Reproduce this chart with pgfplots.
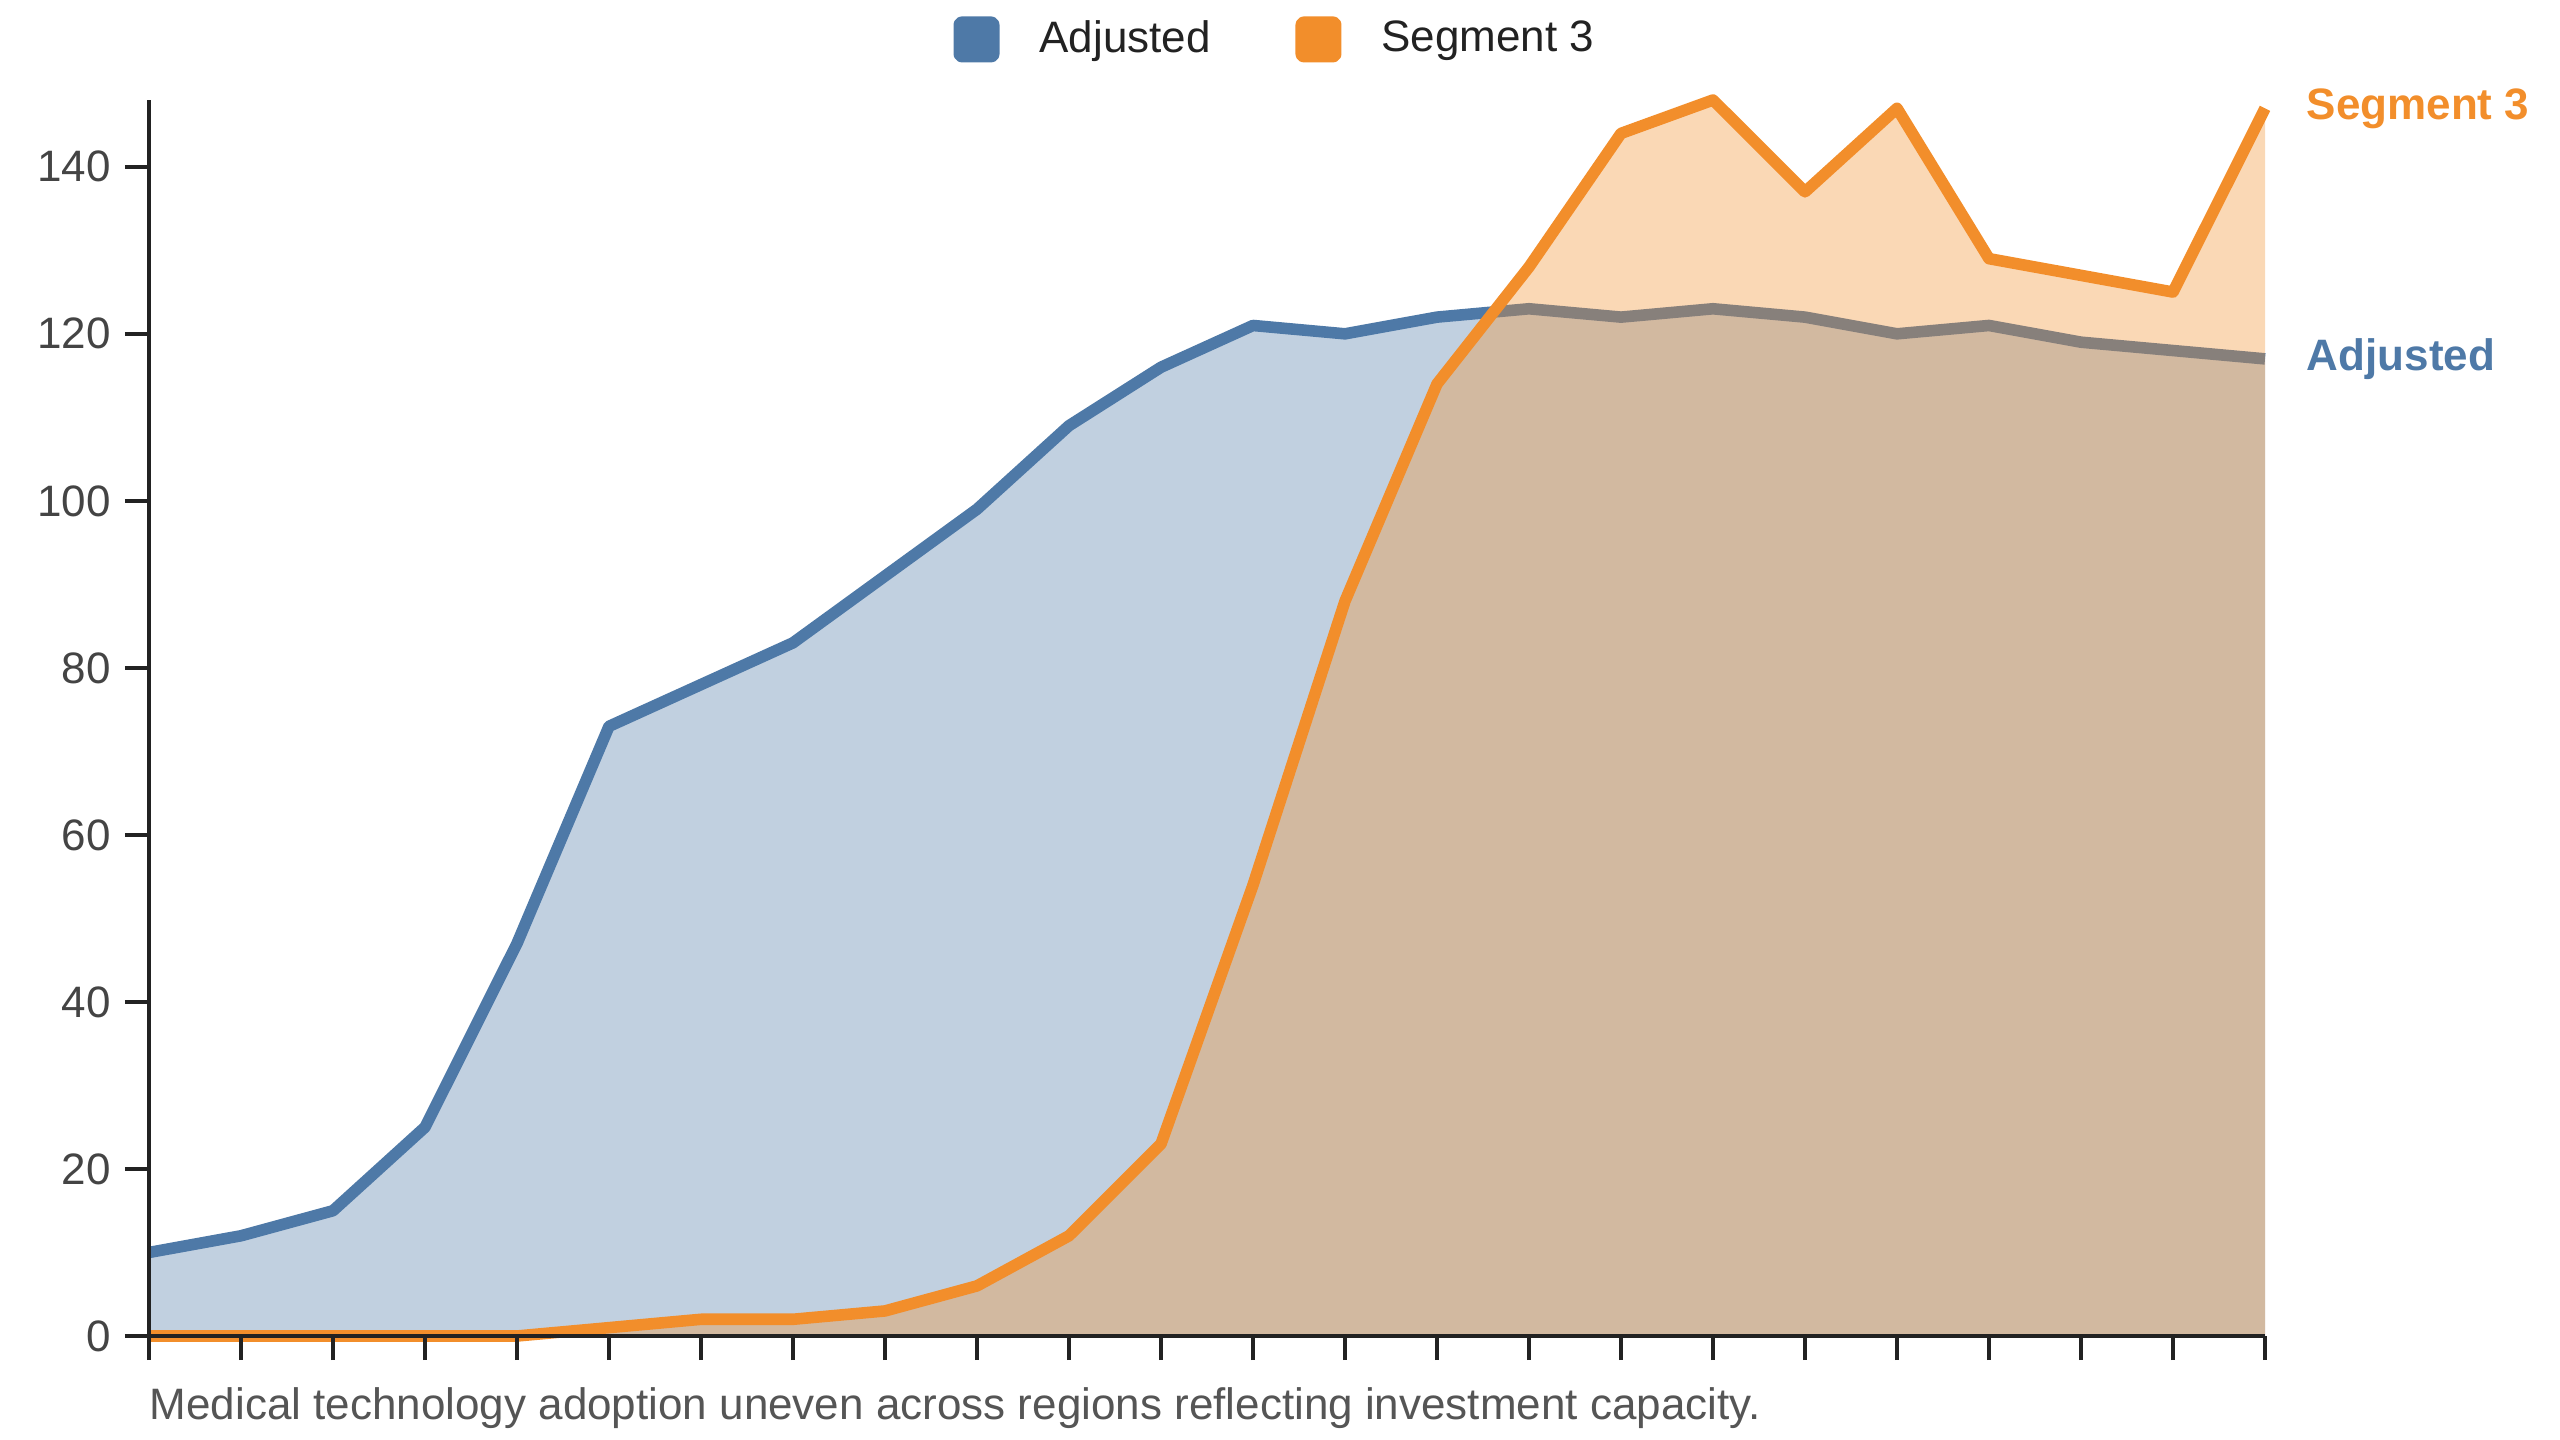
\documentclass[border=0pt]{standalone}
\usepackage{pgfplots}
\pgfplotsset{compat=1.18}
\usepackage{pgfplotstable}
\usepackage{fontspec}
\setmainfont{Liberation Sans}
\definecolor{cblue}{HTML}{4E79A7}
\definecolor{corange}{HTML}{F28E2B}
\definecolor{axisc}{HTML}{222222}
\definecolor{tickc}{HTML}{444444}
\definecolor{capc}{HTML}{555555}
\pgfplotstableread{
x adj seg
0 10 0
1 12 0
2 15 0
3 25 0
4 47 0
5 73 1
6 78 2
7 83 2
8 91 3
9 99 6
10 109 12
11 116 23
12 121 54
13 120 88
14 122 114
15 123 128
16 122 144
17 123 148
18 122 137
19 120 147
20 121 129
21 119 127
22 118 125
23 117 147
}\datatable
\begin{document}
\begin{tikzpicture}
\useasboundingbox (-37.25bp,-26bp) rectangle (602.75bp,334bp);
\begin{axis}[
  scale only axis, width=529bp, height=309bp,
  xmin=0, xmax=23, ymin=0, ymax=148,
  axis x line*=bottom, axis y line*=left,
  axis line style={line width=0.95bp, draw=axisc, -},
  xtick={0,...,23}, xticklabels={},
  ytick={0,20,...,140},
  tick align=outside, major tick length=6bp,
  tick style={line width=0.95bp, draw=axisc},
  yticklabel style={font=\fontsize{11bp}{13bp}\selectfont, text=tickc},
  /pgf/number format/assume math mode=true,
  clip=false, axis on top,
  legend style={at={(axis description cs:0.5335,1.0490)}, anchor=center,
    draw=none, fill=none, inner sep=0pt, legend columns=2,
    font=\fontsize{11bp}{13bp}\selectfont, text=axisc,
    /tikz/every even column/.append style={column sep=19.2bp}},
  legend cell align=left,
  legend image code/.code={\fill[#1, rounded corners=0.6bp] (0bp,-4.3bp) rectangle (8.6bp,4.3bp); \path (16.6bp,0bp);},
]
\addplot[draw=none, fill=cblue, fill opacity=0.35, forget plot] table[x=x,y=adj]{\datatable} \closedcycle;
\addplot[cblue, line width=2.9bp, line join=round] table[x=x,y=adj]{\datatable};
\addlegendentry{Adjusted}
\addplot[draw=none, fill=corange, fill opacity=0.35, forget plot] table[x=x,y=seg]{\datatable} \closedcycle;
\addplot[corange, line width=2.9bp, line join=round] table[x=x,y=seg]{\datatable};
\addlegendentry{Segment 3}
\node[anchor=west, inner sep=0pt, xshift=10.25bp, text=corange, font=\fontsize{11bp}{13bp}\selectfont\bfseries] at (axis cs:23,147) {Segment 3};
\node[anchor=west, inner sep=0pt, xshift=10.25bp, text=cblue, font=\fontsize{11bp}{13bp}\selectfont\bfseries] at (axis cs:23,117) {Adjusted};
\node[anchor=base west, inner sep=0pt, text=capc, font=\fontsize{11bp}{13bp}\selectfont] at (axis description cs:0,0) [yshift=-20.75bp] {Medical technology adoption uneven across regions reflecting investment capacity.};
\end{axis}
\end{tikzpicture}
\end{document}
